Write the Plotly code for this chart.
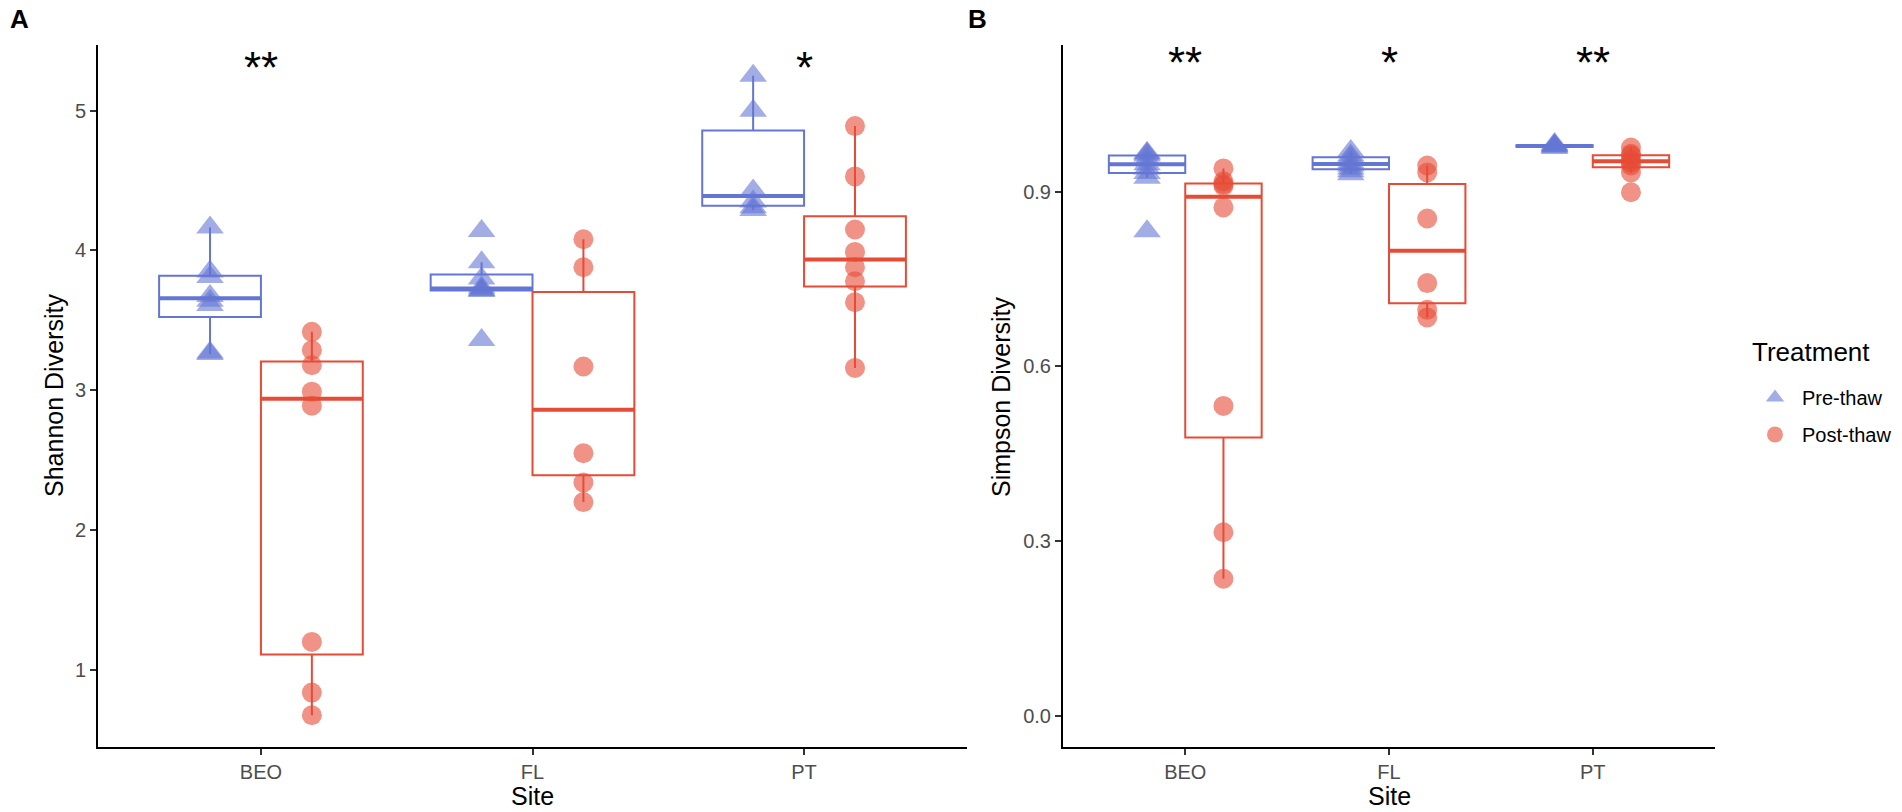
import numpy as np
import plotly.graph_objects as go

sites = ["BEO", "FL", "PT"]
treatments = ["Pre-thaw", "Post-thaw"]

# Shannon diversity, one list per site (BEO, FL, PT)
shannon_pre = [
    [3.26, 3.27, 3.61, 3.64, 3.675, 3.81, 3.85, 4.165],
    [3.36, 3.71, 3.715, 3.72, 3.735, 3.80, 3.915, 4.14],
    [4.29, 4.31, 4.35, 4.43, 5.0, 5.25],
]
shannon_post = [
    [0.675, 0.837, 1.2, 2.89, 2.99, 3.179, 3.287, 3.418],
    [2.2, 2.34, 2.55, 3.17, 3.88, 4.08],
    [3.16, 3.63, 3.78, 3.88, 3.99, 4.15, 4.53, 4.89],
]

# Simpson diversity
simpson_pre = [
    [0.832, 0.924, 0.932, 0.94, 0.947, 0.955, 0.962, 0.965, 0.967],
    [0.93, 0.935, 0.94, 0.945, 0.95, 0.958, 0.962, 0.97],
    [0.975, 0.977, 0.978, 0.979, 0.98, 0.982],
]
simpson_post = [
    [0.235, 0.315, 0.532, 0.873, 0.91, 0.913, 0.918, 0.94],
    [0.684, 0.697, 0.743, 0.854, 0.933, 0.945],
    [0.899, 0.933, 0.945, 0.95, 0.955, 0.962, 0.965, 0.976],
]

sig_shannon = ["**", "", "*"]
sig_simpson = ["**", "*", "**"]
sig_y_shannon = 5.31
sig_y_simpson = 1.122

colors = {"Pre-thaw": "#6476D4", "Post-thaw": "#E64B35"}
symbols = {"Pre-thaw": "triangle-up", "Post-thaw": "circle"}
sizes = {"Pre-thaw": 24, "Post-thaw": 20}
FONT = "Liberation Sans, Arial, sans-serif"
W, H = 1902, 812

dodge = 0.375
offsets = {"Pre-thaw": -dodge / 2, "Post-thaw": dodge / 2}


def box_stats(vals):
    v = np.sort(np.array(vals, dtype=float))
    q1, med, q3 = np.percentile(v, [25, 50, 75])
    iqr = q3 - q1
    lo = v[v >= q1 - 1.5 * iqr].min()
    hi = v[v <= q3 + 1.5 * iqr].max()
    return q1, med, q3, lo, hi


fig = go.Figure()

panels = [
    ("x", "y", {"Pre-thaw": shannon_pre, "Post-thaw": shannon_post}, True),
    ("x2", "y2", {"Pre-thaw": simpson_pre, "Post-thaw": simpson_post}, False),
]

for xa, ya, groups, show_leg in panels:
    for t in treatments:
        data = groups[t]
        pos = [i + offsets[t] for i in range(len(sites))]
        stats = [box_stats(d) for d in data]
        fig.add_trace(go.Box(
            x=pos,
            q1=[s[0] for s in stats], median=[s[1] for s in stats],
            q3=[s[2] for s in stats], lowerfence=[s[3] for s in stats],
            upperfence=[s[4] for s in stats],
            width=dodge, whiskerwidth=0, boxpoints=False,
            line=dict(color=colors[t], width=2), fillcolor="rgba(255,255,255,0)",
            name=t, showlegend=False,
            xaxis=xa, yaxis=ya, hoverinfo="skip",
        ))
        # thicker median line like ggplot
        mx, my = [], []
        for p, s in zip(pos, stats):
            mx += [p - dodge / 2, p + dodge / 2, None]
            my += [s[1], s[1], None]
        fig.add_trace(go.Scatter(
            x=mx, y=my, mode="lines", line=dict(color=colors[t], width=4),
            showlegend=False, xaxis=xa, yaxis=ya, hoverinfo="skip",
        ))
    for t in treatments:
        data = groups[t]
        px, py = [], []
        for i, d in enumerate(data):
            px += [i + offsets[t]] * len(d)
            py += list(d)
        fig.add_trace(go.Scatter(
            x=px, y=py, mode="markers", name=t, legendgroup=t, showlegend=show_leg,
            marker=dict(symbol=symbols[t], size=sizes[t], color=colors[t],
                        opacity=0.6, line=dict(width=0)),
            xaxis=xa, yaxis=ya,
        ))

axis_common = dict(
    showline=True, linecolor="black", linewidth=2, showgrid=False, zeroline=False,
    ticks="outside", ticklen=6, tickwidth=1.5, tickcolor="#333333",
    tickfont=dict(family=FONT, size=20, color="#4D4D4D"),
)

y_dom = [1 - 747 / H, 1 - 45 / H]
fig.update_layout(
    width=W, height=H,
    margin=dict(l=0, r=0, t=0, b=0),
    plot_bgcolor="white", paper_bgcolor="white",
    font=dict(family=FONT, color="black"),
    xaxis=dict(domain=[98 / W, 967 / W], range=[-0.6, 2.6],
               tickvals=list(range(len(sites))), ticktext=sites, **axis_common),
    yaxis=dict(domain=y_dom, range=[0.448, 5.47], tickvals=[1, 2, 3, 4, 5],
               anchor="x", **axis_common),
    xaxis2=dict(domain=[1063 / W, 1715 / W], range=[-0.6, 2.6],
                tickvals=list(range(len(sites))), ticktext=sites, anchor="y2",
                **axis_common),
    yaxis2=dict(domain=y_dom, range=[-0.054, 1.152], tickvals=[0, 0.3, 0.6, 0.9],
                tickformat=".1f", anchor="x2", **axis_common),
    legend=dict(
        font=dict(size=20, family=FONT),
        x=1748 / W, y=1 - 378 / H, xanchor="left", yanchor="top",
        tracegroupgap=8, itemwidth=44, bgcolor="rgba(0,0,0,0)",
    ),
)


def label(x, y, text, size, angle=0, xanchor="center"):
    return dict(x=x / W, y=1 - y / H, xref="paper", yref="paper", text=text,
                textangle=angle, showarrow=False, xanchor=xanchor, yanchor="middle",
                font=dict(size=size, family=FONT, color="black"))


ann = []
for i, s in enumerate(sig_shannon):
    if s:
        ann.append(dict(x=i, y=sig_y_shannon, xref="x", yref="y", text=s,
                        showarrow=False, yanchor="middle",
                        font=dict(size=44, family=FONT)))
for i, s in enumerate(sig_simpson):
    if s:
        ann.append(dict(x=i, y=sig_y_simpson, xref="x2", yref="y2", text=s,
                        showarrow=False, yanchor="middle",
                        font=dict(size=44, family=FONT)))

mid_y = (45 + 747) / 2
ann += [
    label(54, mid_y, "Shannon Diversity", 25, angle=-90),
    label(1001, mid_y, "Simpson Diversity", 25, angle=-90),
    label(532, 796, "Site", 25),
    label(1389, 796, "Site", 25),
    label(19, 19, "<b>A</b>", 26),
    label(977, 19, "<b>B</b>", 26),
    label(1750, 352, "Treatment", 26, xanchor="left"),
]
fig.update_layout(annotations=ann)

fig.write_html("out.html", config={"displayModeBar": False},
               post_script="document.body.style.margin='0';")
